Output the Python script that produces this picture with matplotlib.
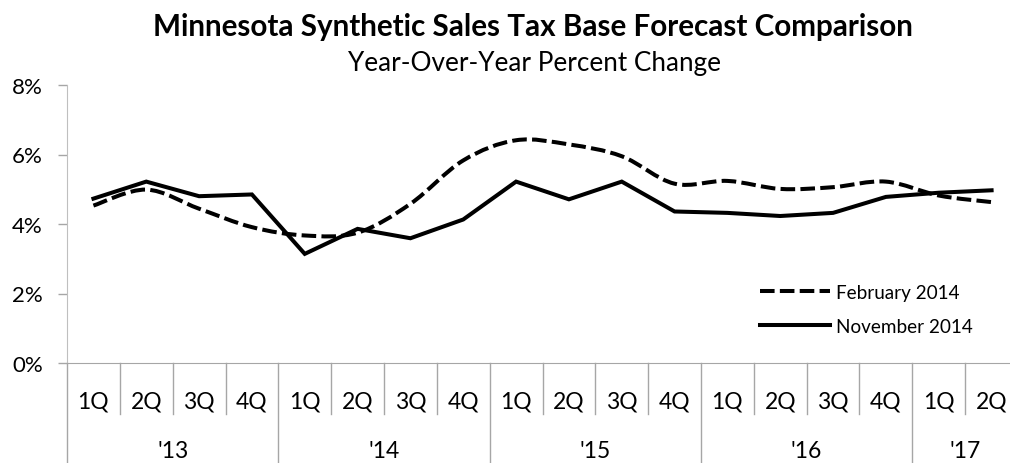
import matplotlib
matplotlib.use("Agg")
import matplotlib.pyplot as plt
from matplotlib.path import Path
from matplotlib.patches import PathPatch
from matplotlib.lines import Line2D
from matplotlib.ticker import FuncFormatter
import matplotlib.transforms as mtransforms

plt.rcParams["font.family"] = ["Lato", "DejaVu Sans"]
plt.rcParams["lines.scale_dashes"] = False

quarters = ["1Q", "2Q", "3Q", "4Q"] * 4 + ["1Q", "2Q"]
years = ["'13", "'14", "'15", "'16", "'17"]
feb_2014 = [4.53, 4.99, 4.44, 3.91, 3.67, 3.75, 4.58, 5.83, 6.41,
            6.29, 5.95, 5.16, 5.24, 5.01, 5.06, 5.22, 4.82, 4.63]
nov_2014 = [4.73, 5.22, 4.80, 4.85, 3.14, 3.86, 3.59, 4.13, 5.22,
            4.71, 5.22, 4.36, 4.32, 4.23, 4.32, 4.78, 4.90, 4.97]

GRID = "#a6a6a6"
DASH = (0, (10.5, 3.8))


def smooth_path(xs, ys):
    """Catmull-Rom style bezier through the points (like Excel's smoothed line)."""
    pts = list(zip(xs, ys))
    n = len(pts)
    verts = [pts[0]]
    codes = [Path.MOVETO]
    for i in range(n - 1):
        p0 = pts[i - 1] if i > 0 else pts[i]
        p1, p2 = pts[i], pts[i + 1]
        p3 = pts[i + 2] if i + 2 < n else pts[i + 1]
        c1 = (p1[0] + (p2[0] - p0[0]) / 6, p1[1] + (p2[1] - p0[1]) / 6)
        c2 = (p2[0] - (p3[0] - p1[0]) / 6, p2[1] - (p3[1] - p1[1]) / 6)
        verts += [c1, c2, p2]
        codes += [Path.CURVE4] * 3
    return Path(verts, codes)


fig = plt.figure(figsize=(10.1, 4.64), dpi=100)
ax = fig.add_axes([67 / 1010, 100 / 464, 951 / 1010, 278 / 464])

x = [i + 0.5 for i in range(len(quarters))]
ax.add_patch(PathPatch(smooth_path(x, feb_2014), fill=False, lw=2.9,
                       color="black", linestyle=DASH, capstyle="butt"))
ax.plot(x, nov_2014, color="black", lw=2.9, solid_joinstyle="miter")

ax.set_xlim(0, len(quarters))
ax.set_ylim(0, 8)
ax.set_yticks([0, 2, 4, 6, 8])
ax.yaxis.set_major_formatter(FuncFormatter(lambda v, _: f"{v:.0f}%"))
ax.tick_params(axis="y", direction="out", length=6.5, width=1, color=GRID,
               pad=11, labelsize=16)
ax.set_xticks([])
for s in ("top", "right"):
    ax.spines[s].set_visible(False)
ax.spines["left"].set_color("#bfbfbf")
ax.spines["bottom"].set_color(GRID)

# two-level category axis: quarter cells and year groups
trans = mtransforms.blended_transform_factory(ax.transData, ax.transAxes)
for i in range(len(quarters) + 1):
    low = -0.36 if i % 4 == 0 else -0.183
    ax.plot([i, i], [0, low], color=GRID, lw=1, transform=trans, clip_on=False)
for i, q in enumerate(quarters):
    ax.text(i + 0.5, -0.1356, q, transform=trans, ha="center", va="center",
            fontsize=16.5)
for j, yr in enumerate(years):
    start = 4 * j
    end = min(start + 4, len(quarters))
    ax.text((start + end) / 2, -0.316, yr, transform=trans, ha="center",
            va="center", fontsize=16.5)

handles = [Line2D([], [], color="black", lw=2.9, linestyle=DASH),
           Line2D([], [], color="black", lw=2.9)]
fig.legend(handles, ["February 2014", "November 2014"], loc="upper left",
           bbox_to_anchor=(760 / 1010, 1 - 285 / 464), frameon=False,
           fontsize=13.6, handlelength=3.7, handletextpad=0.35,
           labelspacing=0.9, borderpad=0, borderaxespad=0)

fig.text(533 / 1010, 1 - 36 / 464,
         "Minnesota Synthetic Sales Tax Base Forecast Comparison",
         ha="center", va="baseline", fontsize=21.3, fontweight="bold")
fig.text(534 / 1010, 1 - 71 / 464, "Year-Over-Year Percent Change",
         ha="center", va="baseline", fontsize=18.8)

fig.savefig("out.png", dpi=100, facecolor="white")
